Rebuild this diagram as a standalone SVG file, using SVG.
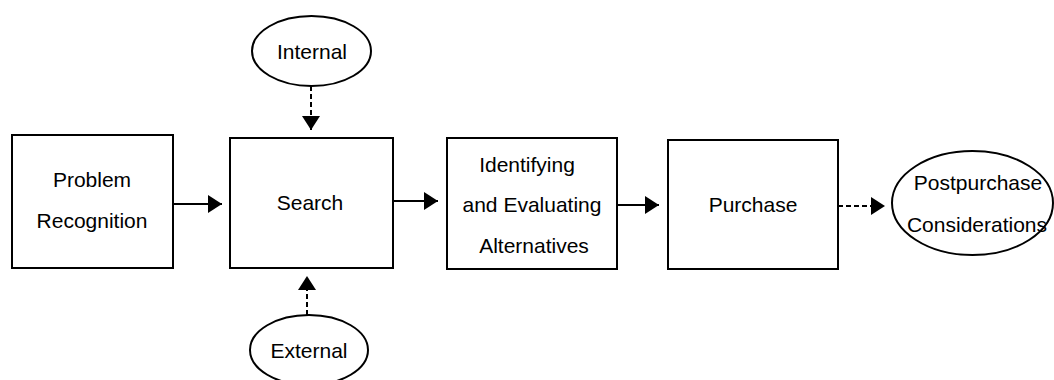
<svg xmlns="http://www.w3.org/2000/svg" width="1054" height="380" viewBox="0 0 1054 380">
<style>
.box{fill:#fff;stroke:#000;stroke-width:2}
.ell{fill:#fff;stroke:#000;stroke-width:2}
.t{font-family:"Liberation Sans",Arial,sans-serif;font-size:21px;fill:#000;text-anchor:middle}
.c{stroke:#000;stroke-width:2;fill:none}
.d{stroke-dasharray:5 3}
</style>
<defs>
<marker id="ah" markerUnits="userSpaceOnUse" markerWidth="15" markerHeight="18" refX="14" refY="9" orient="auto" viewBox="0 0 15 18">
<path d="M0,0 L14,9 L0,18 z" fill="#000"/>
</marker>
</defs>
<rect width="1054" height="380" fill="#fff"/>
<g id="connectors">
<line class="c" x1="173" y1="204" x2="222" y2="204" marker-end="url(#ah)"/>
<line class="c" x1="393" y1="201" x2="438" y2="201" marker-end="url(#ah)"/>
<line class="c" x1="617" y1="205" x2="659" y2="205" marker-end="url(#ah)"/>
<line class="c d" x1="838" y1="206" x2="885" y2="206" marker-end="url(#ah)"/>
<line class="c d" x1="311" y1="86" x2="311" y2="130" marker-end="url(#ah)"/>
<line class="c d" x1="307" y1="315" x2="307" y2="276" marker-end="url(#ah)"/>
</g>
<g id="problem">
<rect class="box" x="12" y="135" width="161" height="133"/>
<text class="t" x="92" y="187">Problem</text>
<text class="t" x="92" y="228">Recognition</text>
</g>
<g id="search">
<rect class="box" x="230" y="138" width="163" height="130"/>
<text class="t" x="310" y="210">Search</text>
</g>
<g id="internal">
<ellipse class="ell" cx="311.5" cy="51" rx="59.5" ry="35"/>
<text class="t" x="312" y="59">Internal</text>
</g>
<g id="external">
<ellipse class="ell" cx="309" cy="350" rx="59" ry="35"/>
<text class="t" x="309" y="358">External</text>
</g>
<g id="identify">
<rect class="box" x="447" y="138" width="170" height="131"/>
<text class="t" x="527" y="172">Identifying</text>
<text class="t" x="532" y="212">and Evaluating</text>
<text class="t" x="534" y="253">Alternatives</text>
</g>
<g id="purchase">
<rect class="box" x="668" y="140" width="170" height="129"/>
<text class="t" x="753" y="212">Purchase</text>
</g>
<g id="postpurchase">
<ellipse class="ell" cx="972.5" cy="203" rx="80.5" ry="52"/>
<text class="t" x="978" y="190">Postpurchase</text>
<text class="t" x="977" y="232">Considerations</text>
</g>
</svg>
